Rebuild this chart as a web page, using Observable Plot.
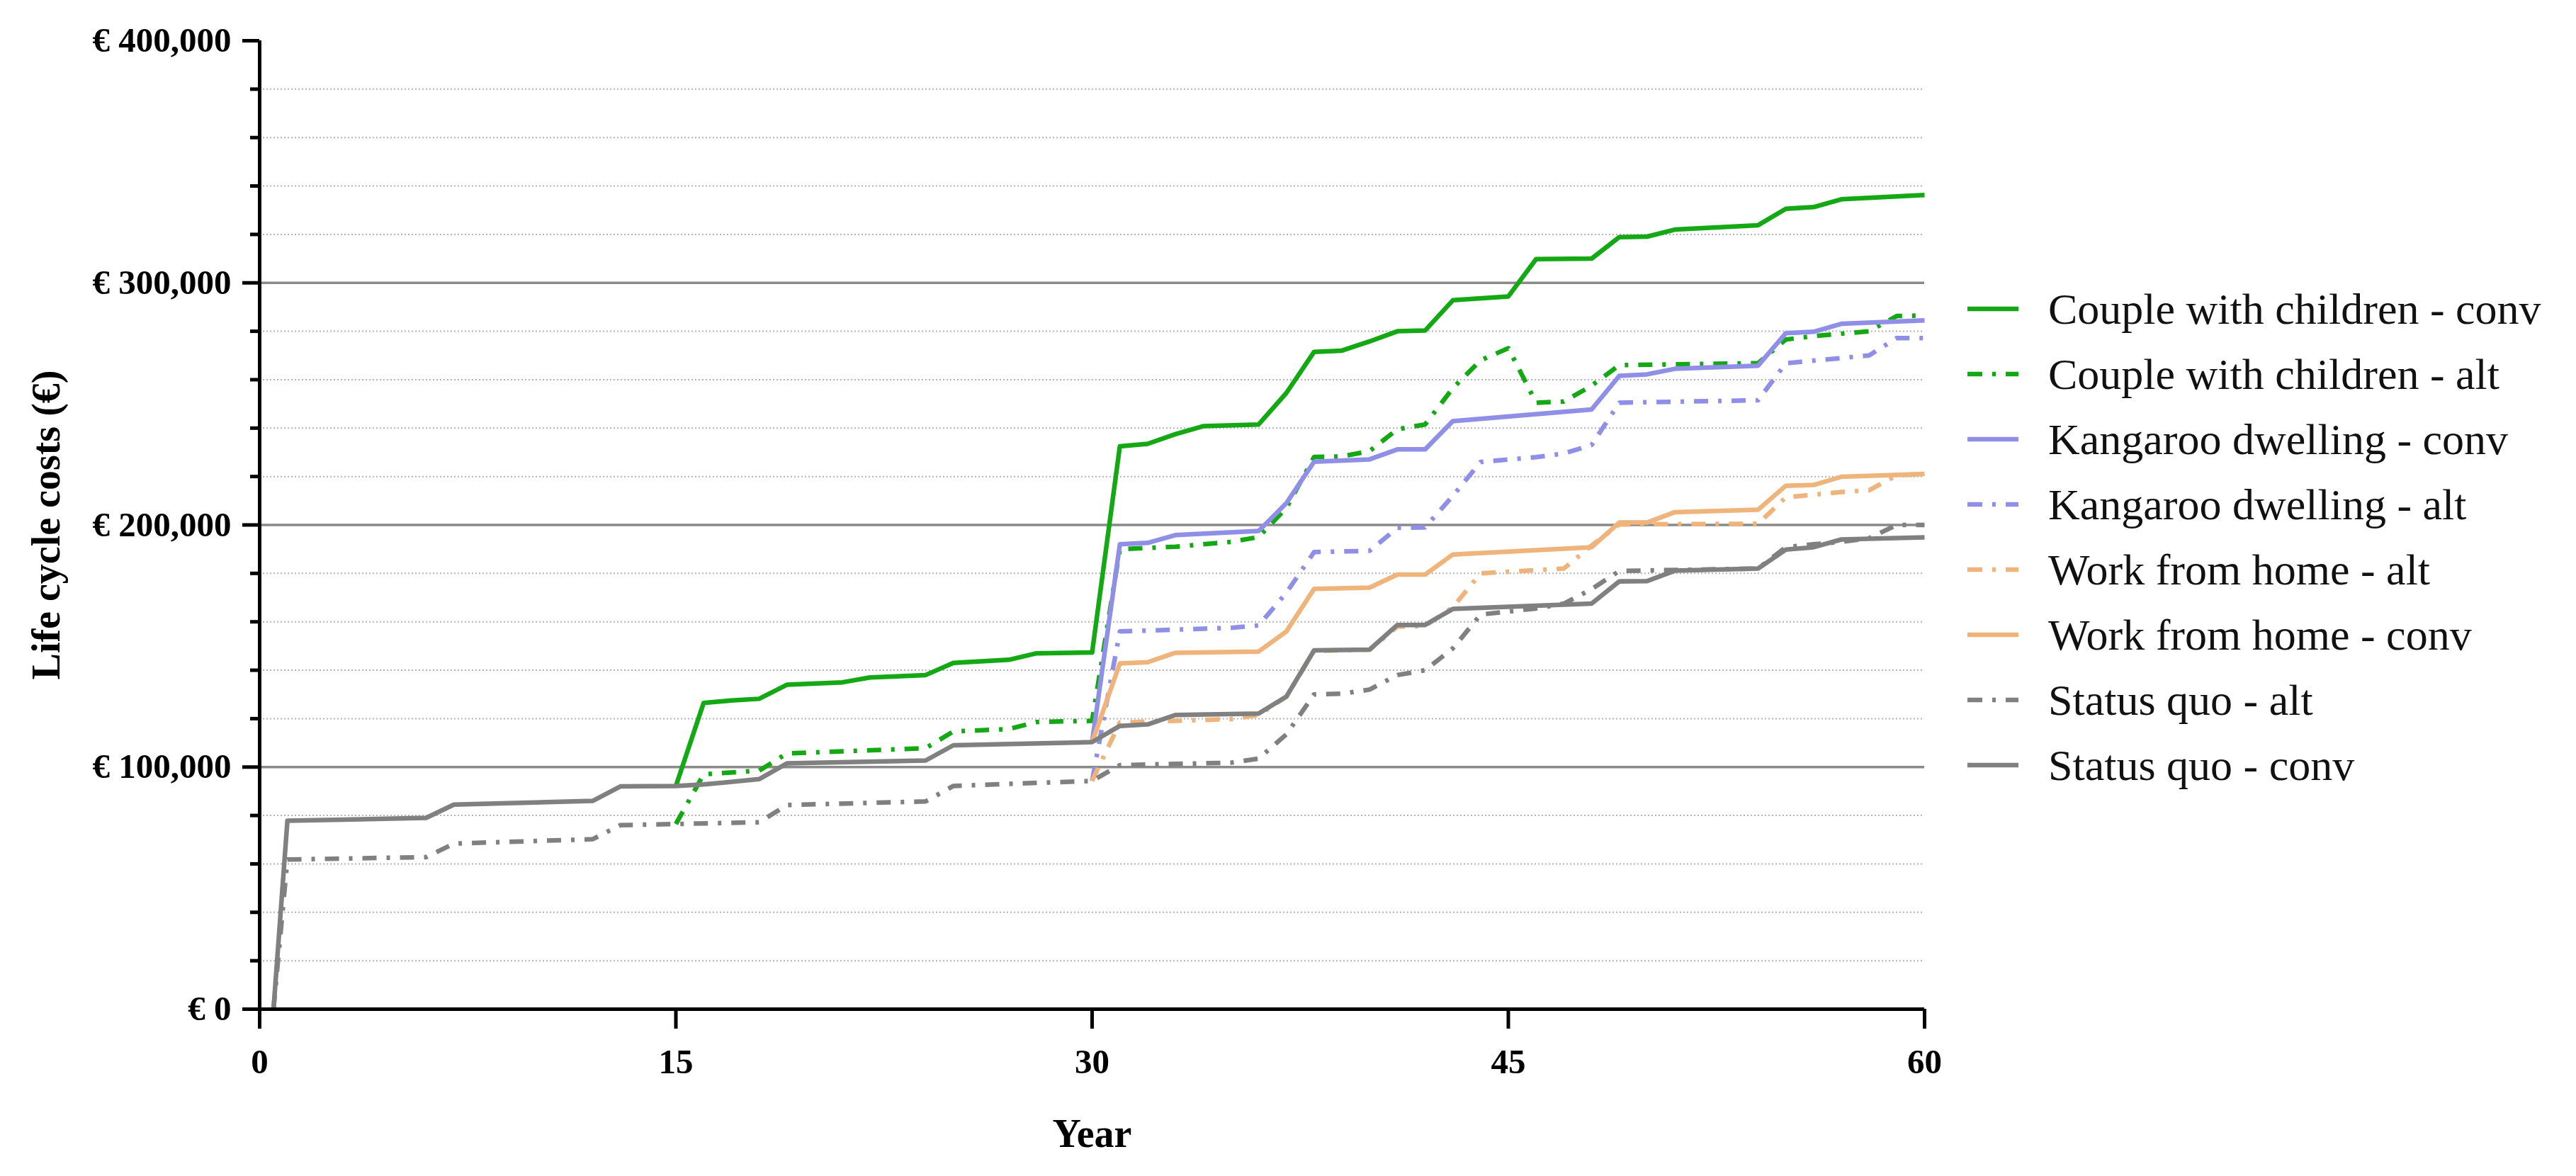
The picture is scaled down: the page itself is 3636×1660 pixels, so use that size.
<!DOCTYPE html>
<html>
<head>
<meta charset="utf-8">
<script src="https://cdn.jsdelivr.net/npm/d3@7"></script>
<script src="https://cdn.jsdelivr.net/npm/@observablehq/plot@0.6"></script>
<style>
  html, body { margin: 0; padding: 0; background: #fff; }
  #wrap { position: relative; width: 3636px; height: 1660px; overflow: hidden; background: #fff; }
  #chart svg { display: block; }
  #legend { position: absolute; left: 2777px; top: 390px; font-family: "Liberation Serif", serif; font-size: 62px; color: #111; }
  .row { display: flex; align-items: center; height: 92px; white-space: nowrap; }
  .row svg { margin-right: 42px; flex: none; }
</style>
</head>
<body>
<div id="wrap">
  <div id="chart"></div>
  <div id="legend"></div>
</div>
<script>
// ---- data (year, life cycle cost in €) ----
const coupleConv = [[15,92200],[16,126500],[17,127500],[18,128200],[19,134000],[21,135000],[22,137000],[24,138000],[25,143000],[27,144300],[28,147000],[30,147300],[31,232500],[32,233500],[33,237500],[34,240800],[36,241500],[37,254500],[38,271500],[39,272000],[40,275800],[41,280000],[42,280300],[43,292800],[45,294400],[46,309800],[48,310000],[49,318900],[50,319100],[51,322000],[54,323800],[55,330600],[56,331300],[57,334500],[60,336300]];
const coupleAlt = [[15,76500],[16,97000],[18,98500],[19,105600],[24,107800],[25,114700],[27,115700],[28,118600],[30,119100],[31,190000],[33,191000],[35,193000],[36,195000],[37,207000],[38,228100],[39,228300],[40,230500],[41,239500],[42,241500],[43,256500],[44,268000],[45,273000],[46,250500],[47,251000],[48,257500],[49,266000],[54,266800],[55,276600],[56,278000],[57,279000],[58,280000],[59,286300],[60,286500]];
const kangarooConv = [[30,110300],[31,192000],[32,192600],[33,195800],[36,197500],[37,209000],[38,226100],[40,227100],[41,231200],[42,231200],[43,242900],[48,247700],[49,261600],[50,262200],[51,264500],[54,265800],[55,279200],[56,279800],[57,283100],[60,284500]];
const kangarooAlt = [[30,94300],[31,156000],[35,157500],[36,158500],[37,172000],[38,188800],[40,189300],[41,198800],[42,199000],[43,212000],[44,226000],[46,228000],[47,229500],[48,233000],[49,250500],[54,251500],[55,266800],[58,270000],[59,277200],[60,277200]];
const wfhAlt = [[30,94300],[31,118400],[35,119800],[36,121500],[37,129000],[38,148000],[40,148500],[41,158000],[42,158300],[43,166000],[44,180000],[47,182000],[48,191500],[49,200200],[54,200500],[55,211400],[57,213600],[58,214300],[59,220500],[60,221000]];
const wfhConv = [[30,110300],[31,142800],[32,143300],[33,147200],[36,147700],[37,156000],[38,173600],[40,174100],[41,179500],[42,179500],[43,187800],[48,190800],[49,201000],[50,201000],[51,205300],[54,206300],[55,216200],[56,216500],[57,219900],[60,221100]];
const statusQuoAlt = [[0.5,0],[1,61800],[6,62800],[7,68400],[12,70200],[13,76000],[18,77200],[19,84300],[24,85800],[25,92200],[30,94300],[31,100800],[35,101800],[36,103500],[37,113500],[38,130000],[39,130300],[40,132000],[41,138000],[42,140000],[43,149000],[44,163000],[46,165500],[47,167500],[48,173500],[49,181000],[54,182000],[55,190800],[56,192000],[57,193000],[58,194500],[59,200000],[60,200000]];
const statusQuoConv = [[0.5,0],[1,77800],[6,79000],[7,84500],[12,86000],[13,92000],[15,92200],[16,92800],[18,95000],[19,101500],[24,102700],[25,109000],[30,110300],[31,117000],[32,117600],[33,121500],[36,122100],[37,129100],[38,148200],[40,148500],[41,158700],[42,158700],[43,165300],[48,167500],[49,176700],[50,176800],[51,181100],[54,182000],[55,189800],[56,190800],[57,194000],[60,194900]];

const seriesNames = ["Couple with children - conv","Couple with children - alt","Kangaroo dwelling - conv","Kangaroo dwelling - alt","Work from home - alt","Work from home - conv","Status quo - alt","Status quo - conv"];
const seriesData = [coupleConv, coupleAlt, kangarooConv, kangarooAlt, wfhAlt, wfhConv, statusQuoAlt, statusQuoConv];
const seriesColors = ["#14a814","#14a814","#8f8fe8","#8f8fe8","#efb47c","#efb47c","#808080","#808080"];
const seriesDashed = [false, true, false, true, true, false, true, false];

const xTicks = [0, 15, 30, 45, 60];
const yMajor = [0, 100000, 200000, 300000, 400000];
const yMinor = d3.range(20000, 400000, 20000).filter(v => v % 100000 !== 0);
const yGridMajor = [100000, 200000, 300000];

const DASH = "20,14,5,14";
const FONT = "Liberation Serif";
const fmt = d => "€ " + d3.format(",")(d);

const lineMarks = seriesData.map((s, i) => Plot.line(s, {
  x: d => d[0], y: d => d[1],
  stroke: seriesColors[i], strokeWidth: 6.5,
  strokeDasharray: seriesDashed[i] ? DASH : null,
  strokeLinecap: "butt", strokeLinejoin: "round"
}));

const chart = Plot.plot({
  width: 2760, height: 1660,
  marginLeft: 366, marginRight: 44, marginTop: 57, marginBottom: 236,
  style: {fontFamily: FONT, fontSize: "49px", color: "#000", background: "transparent"},
  x: {domain: [0, 60]},
  y: {domain: [0, 400000]},
  marks: [
    Plot.ruleY(yMinor, {x1: 0, x2: 60, stroke: "#b4b4b4", strokeWidth: 2, strokeDasharray: "2,3"}),
    Plot.ruleY(yGridMajor, {x1: 0, x2: 60, stroke: "#8a8a8a", strokeWidth: 3.5}),
    ...lineMarks,
    Plot.axisY(yMinor, {tickSize: 13, strokeWidth: 5, tickFormat: () => "", label: null}),
    Plot.axisY(yMajor, {tickSize: 24, strokeWidth: 5, tickPadding: 16, tickFormat: fmt, fontWeight: "bold", label: null}),
    Plot.axisY([], {label: "Life cycle costs (€)", labelAnchor: "center", labelArrow: "none", labelOffset: 322, fontSize: 56, fontWeight: "bold", tickSize: 0}),
    Plot.axisX(xTicks, {tickSize: 28, strokeWidth: 5, tickPadding: 28, fontWeight: "bold", label: null}),
    Plot.axisX([], {label: "Year", labelAnchor: "center", labelArrow: "none", labelOffset: 194, fontSize: 56, fontWeight: "bold", tickSize: 0}),
    Plot.ruleX([0], {y1: 0, y2: 400000, strokeWidth: 5, stroke: "#000"}),
    Plot.ruleY([0], {x1: 0, x2: 60, strokeWidth: 5, stroke: "#000"})
  ]
});
document.getElementById("chart").appendChild(chart);

// ---- legend ----
const legend = document.getElementById("legend");
seriesNames.forEach((name, i) => {
  const row = document.createElement("div");
  row.className = "row";
  const ns = "http://www.w3.org/2000/svg";
  const sw = document.createElementNS(ns, "svg");
  sw.setAttribute("width", 72); sw.setAttribute("height", 20);
  const ln = document.createElementNS(ns, "line");
  ln.setAttribute("x1", 0); ln.setAttribute("x2", 72);
  ln.setAttribute("y1", 10); ln.setAttribute("y2", 10);
  ln.setAttribute("stroke", seriesColors[i]);
  ln.setAttribute("stroke-width", 6.5);
  if (seriesDashed[i]) ln.setAttribute("stroke-dasharray", "21,14,5,14");
  sw.appendChild(ln);
  const t = document.createElement("span");
  t.textContent = name;
  row.appendChild(sw); row.appendChild(t);
  legend.appendChild(row);
});
</script>
</body>
</html>
